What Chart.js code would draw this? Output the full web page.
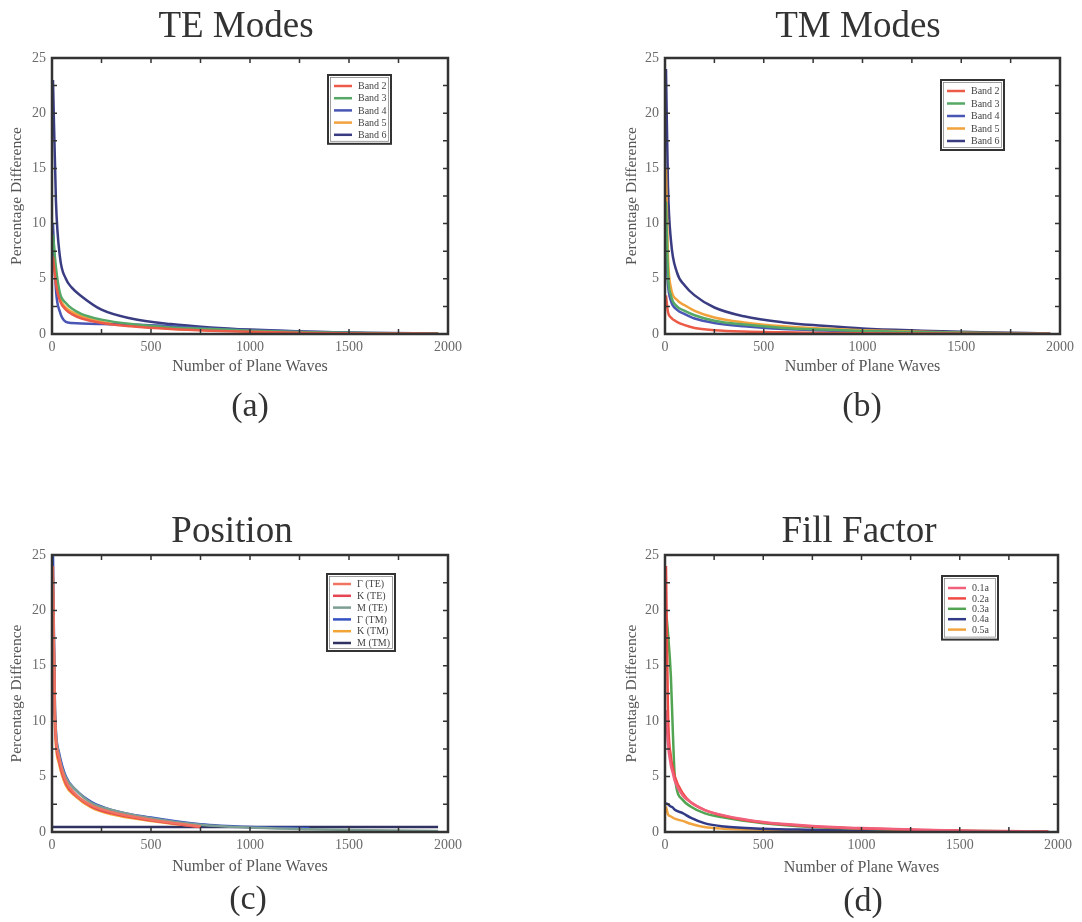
<!DOCTYPE html>
<html><head><meta charset="utf-8">
<script src="https://cdn.jsdelivr.net/npm/chart.js@4.4.1/dist/chart.umd.min.js"></script>
<style>
body{margin:0;background:#fff;width:1082px;height:922px;position:relative;overflow:hidden;font-family:'Liberation Serif',serif}
canvas{position:absolute}
.lab{position:absolute;font-size:34px;color:#333;transform:translate(-50%,-50%);line-height:1;white-space:nowrap}
.ttl{position:absolute;font-size:37px;color:#333;transform:translate(-50%,-50%);line-height:1;white-space:nowrap}
</style></head><body>
<canvas id="ca" width="541" height="461" style="left:0;top:0"></canvas>
<canvas id="cb" width="541" height="461" style="left:541px;top:0"></canvas>
<canvas id="cc" width="541" height="461" style="left:0;top:461px"></canvas>
<canvas id="cd" width="541" height="461" style="left:541px;top:461px"></canvas>
<div class="ttl" style="left:236px;top:24px">TE Modes</div>
<div class="ttl" style="left:858px;top:24px">TM Modes</div>
<div class="ttl" style="left:232px;top:529px">Position</div>
<div class="ttl" style="left:859px;top:529px">Fill Factor</div>
<div class="lab" style="left:250px;top:405px">(a)</div>
<div class="lab" style="left:862px;top:405px">(b)</div>
<div class="lab" style="left:248px;top:898px">(c)</div>
<div class="lab" style="left:863px;top:900px">(d)</div>
<script>
// ---- Panel (a): TE Modes ----
const X_A = [5, 20, 40, 70, 100, 150, 250, 400, 600, 800, 1000, 1300, 1600, 1950];
const A_BAND2 = [7, 4.5, 3.0, 2.2, 1.8, 1.4, 1.0, 0.7, 0.45, 0.3, 0.2, 0.1, 0.05, 0.03];
const A_BAND3 = [9, 6, 3.7, 2.8, 2.3, 1.8, 1.3, 0.9, 0.6, 0.45, 0.3, 0.15, 0.08, 0.04];
const A_BAND4 = [10, 4, 2, 1.1, 1.0, 0.95, 0.9, 0.85, 0.7, 0.5, 0.35, 0.2, 0.1, 0.05];
const A_BAND5 = [8, 5, 3.2, 2.4, 2.0, 1.6, 1.1, 0.75, 0.5, 0.35, 0.25, 0.12, 0.06, 0.03];
const A_BAND6 = [23, 12, 7, 5, 4.2, 3.4, 2.2, 1.4, 0.9, 0.6, 0.4, 0.2, 0.1, 0.05];

// ---- Panel (b): TM Modes ----
const X_B = [5, 15, 30, 60, 100, 150, 250, 400, 600, 800, 1000, 1300, 1600, 1950];
const B_BAND2 = [3.5, 2.0, 1.5, 1.1, 0.8, 0.55, 0.35, 0.22, 0.15, 0.1, 0.07, 0.05, 0.03, 0.02];
const B_BAND3 = [12, 5.5, 3.5, 2.5, 2.1, 1.7, 1.2, 0.85, 0.55, 0.4, 0.28, 0.16, 0.08, 0.03];
const B_BAND4 = [8, 4.5, 3.0, 2.2, 1.8, 1.4, 1.0, 0.7, 0.45, 0.32, 0.22, 0.12, 0.06, 0.03];
const B_BAND5 = [15, 7, 4.2, 3.1, 2.6, 2.1, 1.5, 1.05, 0.7, 0.5, 0.35, 0.2, 0.1, 0.04];
const B_BAND6 = [24, 13.5, 8.5, 5.6, 4.4, 3.5, 2.4, 1.6, 1.05, 0.75, 0.5, 0.3, 0.15, 0.05];

// ---- Panel (c): Position ----
const X_C = [5, 15, 35, 70, 120, 200, 300, 500, 750, 1000, 1300, 1600, 1950];
const C_G_TE = [24, 10.5, 6.8, 4.6, 3.4, 2.4, 1.8, 1.1, 0.5];
const C_K_TE = [22, 10, 6.5, 4.4, 3.3, 2.3, 1.7, 1.05, 0.45];
const C_M_TE = [23, 11, 7.0, 4.9, 3.8, 2.6, 2.0, 1.25, 0.65, 0.4, 0.25, 0.15, 0.1];
const C_G_TM = [25, 11, 7.2, 5.0, 3.8, 2.7, 2.0, 1.3, 0.7, 0.45, 0.35];
const C_K_TM = [21, 9.5, 6.2, 4.2, 3.2, 2.2, 1.6, 1.0, 0.45];
const X_C_FLAT = [5, 500, 1000, 1500, 1950];
const C_M_TM = [0.45, 0.45, 0.45, 0.45, 0.45];

// ---- Panel (d): Fill Factor ----
const X_D = [5, 15, 30, 40, 50, 90, 130, 200, 300, 500, 750, 1000, 1300, 1600, 1950];
const D_01 = [11, 8, 6, 5.3, 4.6, 3.3, 2.7, 2.0, 1.5, 0.9, 0.55, 0.35, 0.2, 0.1, 0.05];
const D_02 = [24, 11, 6.8, 5.8, 5.0, 3.5, 2.7, 2.0, 1.45, 0.85, 0.5, 0.32, 0.18, 0.1, 0.05];
const D_03 = [20, 18, 14, 9, 5.0, 2.9, 2.3, 1.7, 1.3, 0.8, 0.45, 0.3, 0.15, 0.08, 0.04];
const D_04 = [2.6, 2.5, 2.3, 2.2, 2.0, 1.7, 1.3, 0.8, 0.5, 0.3, 0.2, 0.12, 0.08, 0.05, 0.03];
const D_05 = [2.3, 1.6, 1.4, 1.3, 1.2, 1.0, 0.75, 0.45, 0.3, 0.2, 0.12, 0.08, 0.05, 0.03, 0.02];

const Y_TICKS_STEP = 2.5, X_TICKS_STEP = 250;
const SERIF = "'Liberation Serif', 'Times New Roman', serif";

function pts(xs, ys){ return ys.map((v,i)=>({x:xs[i], y:v})); }
function ds(label, xs, ys, color){
  return {label, data: pts(xs, ys), borderColor: color, backgroundColor: color,
          borderWidth: 2.5, pointRadius: 0, cubicInterpolationMode: 'monotone', fill: false};
}

const framePlugin = {
  id: 'frame',
  afterDatasetsDraw(chart, args, opts){
    const {ctx, chartArea:{left, top, right, bottom}, scales:{x, y}} = chart;
    ctx.save();
    ctx.strokeStyle = '#333';
    ctx.lineWidth = 1.5;
    ctx.beginPath();
    x.ticks.forEach(t => { const p = x.getPixelForValue(t.value);
      ctx.moveTo(p, bottom); ctx.lineTo(p, bottom - 5); ctx.moveTo(p, top); ctx.lineTo(p, top + 5); });
    y.ticks.forEach(t => { const p = y.getPixelForValue(t.value);
      ctx.moveTo(left, p); ctx.lineTo(left + 5, p); ctx.moveTo(right, p); ctx.lineTo(right - 5, p); });
    ctx.stroke();
    ctx.lineWidth = 2.5;
    ctx.strokeRect(left, top, right - left, bottom - top);
    // legend box
    const L = opts.legend;
    const n = chart.data.datasets.length;
    const bx = right - L.right - L.w, by = top + L.top;
    const bh = L.first * 2 + (n - 1) * L.row - 2;
    ctx.fillStyle = '#fff';
    ctx.fillRect(bx, by, L.w, bh);
    ctx.lineWidth = 2; ctx.strokeStyle = '#333';
    ctx.strokeRect(bx, by, L.w, bh);
    ctx.lineWidth = 0.8; ctx.strokeStyle = '#888';
    ctx.strokeRect(bx + 2.5, by + 2.5, L.w - 5, bh - 5);
    ctx.font = '10px ' + SERIF;
    ctx.textBaseline = 'middle'; ctx.textAlign = 'left';
    chart.data.datasets.forEach((d, i) => {
      const yy = by + L.first + i * L.row;
      ctx.strokeStyle = d.borderColor; ctx.lineWidth = 2.5;
      ctx.beginPath(); ctx.moveTo(bx + 6, yy); ctx.lineTo(bx + 24, yy); ctx.stroke();
      ctx.fillStyle = '#444';
      ctx.fillText(d.label, bx + 30, yy + 0.5);
    });
    ctx.restore();
  }
};

const W = 541, H = 461, YW = 52, XH = 45, ATLH = 16 * 1.2;

function makeChart(id, geo, datasets, legend){
  const {l, t, r, b, xtc, ytx} = geo;
  new Chart(document.getElementById(id), {
    type: 'line',
    data: { datasets },
    options: {
      responsive: false, animation: false, parsing: true,
      layout: { autoPadding: false, padding: { left: l - YW, top: t, right: W - r, bottom: H - b - XH } },
      plugins: {
        legend: { display: false }, tooltip: { enabled: false }, title: { display: false },
        frame: { legend }
      },
      scales: {
        x: { type: 'linear', min: 0, max: 2000,
             afterFit(s){ s.height = XH; },
             grid: { display: false, drawTicks: false }, border: { display: false },
             ticks: { stepSize: X_TICKS_STEP, autoSkip: false, maxRotation: 0, padding: 5, color: '#6a6a6a',
                      font: { family: SERIF, size: 14 },
                      callback: v => (v % 500 === 0 ? String(v) : '') },
             title: { display: true, text: 'Number of Plane Waves', color: '#555',
                      font: { family: SERIF, size: 16, lineHeight: 1.2 },
                      padding: { top: 0, bottom: (b + XH) - xtc - ATLH / 2 } } },
        y: { type: 'linear', min: 0, max: 25,
             afterFit(s){ s.width = YW; },
             grid: { display: false, drawTicks: false }, border: { display: false },
             ticks: { stepSize: Y_TICKS_STEP, autoSkip: false, padding: 6, color: '#6a6a6a',
                      font: { family: SERIF, size: 14 },
                      callback: v => (v % 5 === 0 ? String(v) : '') },
             title: { display: true, text: 'Percentage Difference', color: '#555',
                      font: { family: SERIF, size: 15.5, lineHeight: 1.2 },
                      padding: { top: ytx - 9.3, bottom: 0 } } }
      }
    },
    plugins: [framePlugin]
  });
}

makeChart('ca', {l:52, t:58, r:448, b:334, xtc:367, ytx:17}, [
  ds('Band 2', X_A, A_BAND2, '#ec5a48'),
  ds('Band 3', X_A, A_BAND3, '#55a865'),
  ds('Band 4', X_A, A_BAND4, '#4a56b4'),
  ds('Band 5', X_A, A_BAND5, '#f2a23c'),
  ds('Band 6', X_A, A_BAND6, '#3a3c82')
], {right: 57, top: 17, w: 63, first: 11, row: 12.2});

makeChart('cb', {l:124, t:58, r:519, b:334, xtc:367, ytx:19}, [
  ds('Band 2', X_B, B_BAND2, '#ec5a48'),
  ds('Band 3', X_B, B_BAND3, '#55a865'),
  ds('Band 4', X_B, B_BAND4, '#4a56b4'),
  ds('Band 5', X_B, B_BAND5, '#f2a23c'),
  ds('Band 6', X_B, B_BAND6, '#3a3c82')
], {right: 56, top: 22, w: 63, first: 11, row: 12.5});

makeChart('cc', {l:52, t:94, r:448, b:371, xtc:406, ytx:17}, [
  ds('\u0393 (TE)', X_C, C_G_TE, '#f07462'),
  ds('K (TE)', X_C, C_K_TE, '#e64552'),
  ds('M (TE)', X_C, C_M_TE, '#7d9e92'),
  ds('\u0393 (TM)', X_C, C_G_TM, '#3551c2'),
  ds('K (TM)', X_C, C_K_TM, '#f2a436'),
  ds('M (TM)', X_C_FLAT, C_M_TM, '#303362')
], {right: 53, top: 19, w: 68, first: 10, row: 11.8});

makeChart('cd', {l:124, t:94, r:517, b:371, xtc:407, ytx:19}, [
  ds('0.1a', X_D, D_01, '#f0607a'),
  ds('0.2a', X_D, D_02, '#f04a45'),
  ds('0.3a', X_D, D_03, '#52a452'),
  ds('0.4a', X_D, D_04, '#303a86'),
  ds('0.5a', X_D, D_05, '#f2a440')
], {right: 60, top: 21, w: 56, first: 12, row: 10.4});
</script>
</body></html>
